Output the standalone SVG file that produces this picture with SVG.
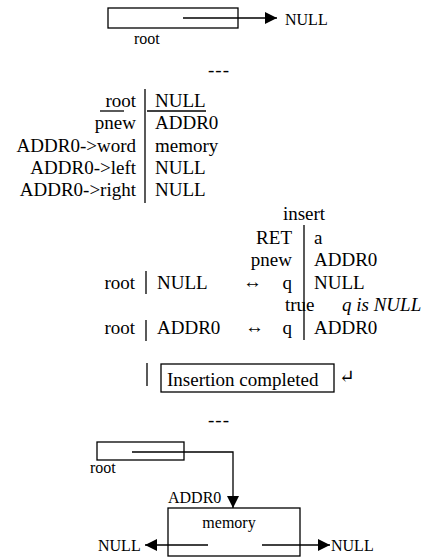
<svg xmlns="http://www.w3.org/2000/svg" width="427" height="559" viewBox="0 0 427 559">
<defs>
<style>
text{fill:#000;font-family:"Times New Roman","Liberation Serif",Tinos,"DejaVu Serif",serif}
.t{font-size:19px}
.s{font-size:16px}
.r{text-anchor:end}
.m{text-anchor:middle}
.ln{stroke:#000;stroke-width:1.3;fill:none}
.bx{stroke:#000;stroke-width:1.3;fill:#fff}
</style>
<marker id="ah" viewBox="0 0 12 12" refX="12" refY="6" markerWidth="12" markerHeight="12" markerUnits="userSpaceOnUse" orient="auto">
<path d="M0,0 L12,6 L0,12 Z" fill="#000"/>
</marker>
</defs>
<rect width="427" height="559" fill="#fff"/>

<!-- Top diagram -->
<g id="root-top">
<rect class="bx" x="108" y="8" width="130" height="20"/>
<text class="s" x="134" y="44">root</text>
</g>
<g id="null-top"><text class="s" x="285" y="25">NULL</text></g>

<text class="t m" x="219" y="76" letter-spacing="1">---</text>

<!-- Table 1 -->
<g id="table1">
<line class="ln" x1="145" y1="89" x2="145" y2="203"/>
<line class="ln" x1="100" y1="111" x2="124" y2="111"/>
<line class="ln" x1="147" y1="111" x2="206" y2="111"/>
<text class="t r" x="136" y="107">root</text>
<text class="t r" x="136" y="129">pnew</text>
<text class="t r" x="136" y="152">ADDR0-&gt;word</text>
<text class="t r" x="136" y="174">ADDR0-&gt;left</text>
<text class="t r" x="136" y="196">ADDR0-&gt;right</text>
<text class="t" x="155" y="107">NULL</text>
<text class="t" x="155" y="129">ADDR0</text>
<text class="t" x="155" y="152">memory</text>
<text class="t" x="155" y="174">NULL</text>
<text class="t" x="155" y="196">NULL</text>
</g>

<!-- Table 2 -->
<g id="table2">
<text class="t m" x="304" y="220">insert</text>
<line class="ln" x1="304" y1="225" x2="304" y2="340"/>
<text class="t r" x="292" y="244">RET</text>
<text class="t r" x="292" y="266">pnew</text>
<text class="t r" x="292" y="289">q</text>
<text class="t" x="314" y="244">a</text>
<text class="t" x="314" y="266">ADDR0</text>
<text class="t" x="314" y="289">NULL</text>
<text class="t" x="285" y="311">true</text>
<text class="t" x="342" y="311" font-style="italic">q is NULL</text>
<text class="t r" x="292" y="334">q</text>
<text class="t" x="314" y="334">ADDR0</text>
</g>
<g id="root-rows">
<text class="t r" x="135" y="289">root</text>
<line class="ln" x1="146" y1="271" x2="146" y2="294"/>
<text class="t" x="157" y="289">NULL</text>
<text class="t" x="243" y="288">↔</text>
<text class="t r" x="135" y="334">root</text>
<line class="ln" x1="146" y1="320" x2="146" y2="341"/>
<text class="t" x="157" y="334">ADDR0</text>
<text class="t" x="245" y="333">↔</text>
</g>

<g id="status">
<line class="ln" x1="147" y1="363" x2="147" y2="386"/>
<rect class="bx" x="161" y="364" width="173" height="28"/>
<text class="t" x="167" y="386">Insertion completed</text>
<text class="t" x="339" y="383">↵</text>
</g>

<text class="t m" x="219" y="426" letter-spacing="1">---</text>

<!-- Bottom diagram -->
<g id="root-bottom">
<rect class="bx" x="97" y="442" width="87" height="18"/>
<text class="s" x="90" y="473">root</text>
</g>
<g id="node-addr0">
<text class="s" x="168" y="503">ADDR0</text>
<rect class="bx" x="168" y="508" width="132" height="48"/>
<text class="s m" x="229" y="528">memory</text>
</g>
<g id="null-left"><text class="s" x="98" y="551">NULL</text></g>
<g id="null-right"><text class="s" x="331" y="551">NULL</text></g>

<g id="connectors">
<line class="ln" x1="183" y1="18" x2="277" y2="18" marker-end="url(#ah)"/>
<polyline class="ln" points="132,452 233,452 233,508" marker-end="url(#ah)"/>
<line class="ln" x1="208" y1="545" x2="145" y2="545" marker-end="url(#ah)"/>
<line class="ln" x1="262" y1="545" x2="330" y2="545" marker-end="url(#ah)"/>
</g>
</svg>
